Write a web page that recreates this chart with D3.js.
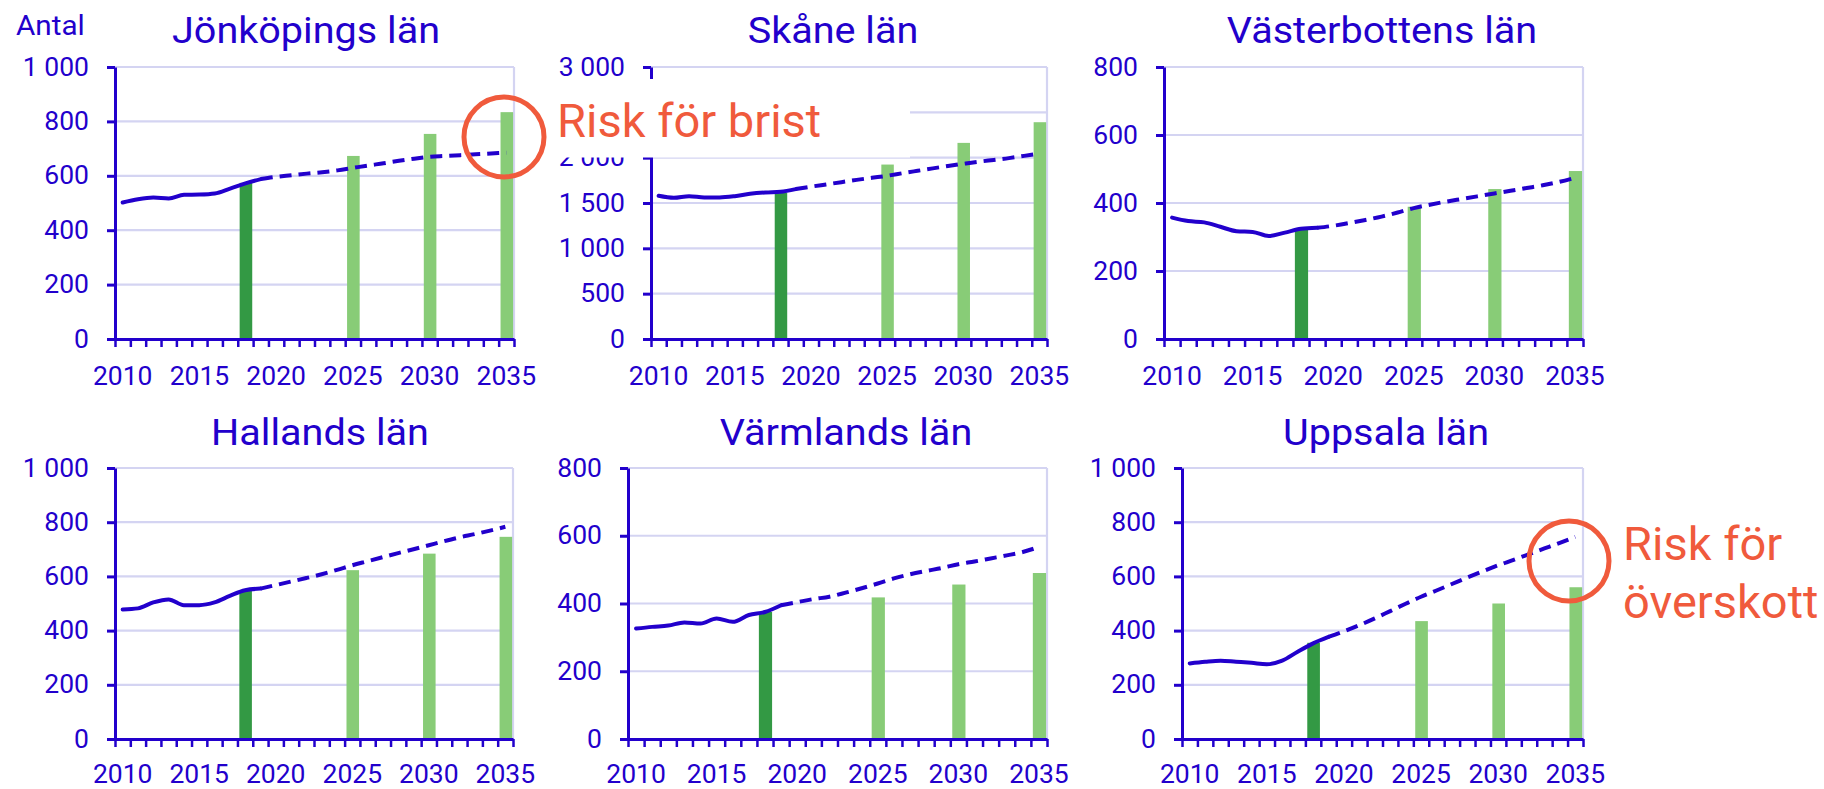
<!DOCTYPE html>
<html>
<head>
<meta charset="utf-8">
<script src="https://cdn.jsdelivr.net/npm/d3@7"></script>
<style>
  html, body { margin: 0; padding: 0; background: #ffffff; }
  svg { display: block; font-family: Roboto, "Noto Sans", sans-serif; }
</style>
</head>
<body>
<svg id="chart" width="1824" height="789"></svg>
<script>
// ---------------- DATA ----------------
const years = [2010,2011,2012,2013,2014,2015,2016,2017,2018,2019,2020,2021,2022,
               2023,2024,2025,2026,2027,2028,2029,2030,2031,2032,2033,2034,2035];
const xLabelYears = [2010, 2015, 2020, 2025, 2030, 2035];
const histYears = [2010,2011,2012,2013,2014,2015,2016,2017,2018,2019];
const forecastYears = [2019,2020,2021,2022,2023,2024,2025,2026,2027,2028,2029,
                       2030,2031,2032,2033,2034,2035];
const barYears = [2018, 2025, 2030, 2035];

const titles = ["Jönköpings län", "Skåne län", "Västerbottens län",
                "Hallands län", "Värmlands län", "Uppsala län"];
const yMax  = [1000, 3000, 800, 1000, 800, 1000];
const yStep = [200, 500, 200, 200, 200, 200];

// Jönköpings län
const jonkopingHist = [502, 514, 520, 517, 530, 531, 535, 553, 572, 588];
const jonkopingForecast = [588, 596, 602, 608, 613, 620, 629, 638, 646, 655, 663,
                           670, 673, 676, 679, 682, 685];
const jonkopingBars = [574, 673, 754, 834];

// Skåne län
const skaneHist = [1579, 1557, 1575, 1561, 1561, 1575, 1601, 1616, 1623, 1653];
const skaneForecast = [1653, 1680, 1705, 1730, 1755, 1778, 1800, 1828, 1855, 1882,
                       1908, 1932, 1955, 1975, 1995, 2020, 2045];
const skaneBars = [1612, 1924, 2163, 2391];

// Västerbottens län
const vasterbottenHist = [357, 347, 343, 330, 317, 315, 303, 313, 324, 327];
const vasterbottenForecast = [327, 333, 341, 350, 360, 372, 385, 395, 404, 412, 420,
                              428, 436, 444, 452, 462, 474];
const vasterbottenBars = [322, 389, 441, 494];

// Hallands län
const hallandHist = [478, 482, 504, 515, 494, 494, 504, 528, 549, 555];
const hallandForecast = [555, 568, 581, 594, 608, 624, 641, 656, 671, 686, 700,
                         715, 730, 744, 756, 769, 783];
const hallandBars = [549, 623, 684, 746];

// Värmlands län
const varmlandHist = [326, 331, 335, 344, 341, 356, 346, 366, 375, 395];
const varmlandForecast = [395, 404, 413, 420, 432, 445, 459, 474, 486, 496, 505,
                          516, 524, 533, 542, 552, 567];
const varmlandBars = [375, 418, 456, 490];

// Uppsala län
const uppsalaHist = [279, 285, 289, 285, 281, 276, 289, 322, 353, 377];
const uppsalaForecast = [377, 397, 420, 445, 472, 499, 525, 548, 572, 596, 619,
                         641, 661, 682, 703, 724, 746];
const uppsalaBars = [355, 435, 500, 560];

const histSeries = [jonkopingHist, skaneHist, vasterbottenHist, hallandHist, varmlandHist, uppsalaHist];
const forecastSeries = [jonkopingForecast, skaneForecast, vasterbottenForecast,
                        hallandForecast, varmlandForecast, uppsalaForecast];
const barSeries = [jonkopingBars, skaneBars, vasterbottenBars, hallandBars, varmlandBars, uppsalaBars];

// ---------------- LAYOUT / STYLE ----------------
const BLUE = "#2200cc";
const GRID = "#d4d4f2";
const DARK_GREEN = "#339944";
const LIGHT_GREEN = "#88cc77";
const RED = "#f05a3c";
const STRETCH = 1.06;

const panels = [
  {x0: 115, x1: 514,  yTop: 67,  yZero: 339, titleX: 306,  titleY: 43, lab: 46},
  {x0: 651, x1: 1047, yTop: 67,  yZero: 339, titleX: 833,  titleY: 43, lab: 46},
  {x0: 1164, x1: 1583, yTop: 67, yZero: 339, titleX: 1382, titleY: 43, lab: 46},
  {x0: 115, x1: 513,  yTop: 468, yZero: 739, titleX: 320,  titleY: 445, lab: 44},
  {x0: 628, x1: 1047, yTop: 468, yZero: 739, titleX: 846,  titleY: 445, lab: 44},
  {x0: 1182, x1: 1583, yTop: 468, yZero: 739, titleX: 1386, titleY: 445, lab: 44}
];

const locale = d3.formatLocale({decimal: ",", thousands: "\u00a0", grouping: [3], currency: ["", " kr"]});
const fmt = locale.format(",d");

const svg = d3.select("#chart");

panels.forEach((p, i) => {
  const g = svg.append("g");
  const x = d3.scaleLinear().domain([years[0] - 0.5, years[years.length - 1] + 0.5]).range([p.x0, p.x1]);
  const y = d3.scaleLinear().domain([0, yMax[i]]).range([p.yZero, p.yTop]);
  const step = x(years[1]) - x(years[0]);
  const yTicks = d3.range(0, yMax[i] + 1, yStep[i]);

  // gridlines
  g.append("g").selectAll("line").data(yTicks.filter(d => d > 0)).join("line")
    .attr("x1", p.x0).attr("x2", p.x1)
    .attr("y1", d => y(d)).attr("y2", d => y(d))
    .attr("stroke", GRID).attr("stroke-width", 2.2);
  g.append("line")
    .attr("x1", p.x1).attr("x2", p.x1)
    .attr("y1", y(yMax[i])).attr("y2", y(0))
    .attr("stroke", GRID).attr("stroke-width", 2.2);

  // bars
  const bw = step * 0.82;
  g.append("g").selectAll("rect").data(barYears.map((yr, k) => ({yr, v: barSeries[i][k], k}))).join("rect")
    .attr("x", d => x(d.yr) - bw / 2 + 0.5)
    .attr("width", bw)
    .attr("y", d => y(d.v))
    .attr("height", d => y(0) - y(d.v))
    .attr("fill", d => d.k === 0 ? DARK_GREEN : LIGHT_GREEN);

  // lines
  const line = d3.line().x(d => x(d[0])).y(d => y(d[1])).curve(d3.curveMonotoneX);
  g.append("path")
    .datum(histYears.map((yr, k) => [yr, histSeries[i][k]]))
    .attr("d", line).attr("fill", "none")
    .attr("stroke", BLUE).attr("stroke-width", 4)
    .attr("stroke-linecap", "round").attr("stroke-linejoin", "round");
  g.append("path")
    .datum(forecastYears.map((yr, k) => [yr, forecastSeries[i][k]]))
    .attr("d", line).attr("fill", "none")
    .attr("stroke", BLUE).attr("stroke-width", 4)
    .attr("stroke-dasharray", "12,7");

  // y axis
  const yAxis = d3.axisLeft(y).tickValues(yTicks).tickSize(8).tickSizeOuter(0)
    .tickPadding(18).tickFormat(fmt);
  const ya = g.append("g").attr("transform", `translate(${p.x0},0)`).call(yAxis);
  ya.select(".domain").attr("stroke", BLUE).attr("stroke-width", 3);
  ya.selectAll(".tick line").attr("stroke", BLUE).attr("stroke-width", 3);
  ya.selectAll(".tick text").attr("fill", BLUE).style("font-size", "25px")
    .style("font-family", "Roboto")
    .attr("x", 0).attr("transform", `translate(-26,0) scale(${STRETCH},1)`);

  // x axis (boundary ticks)
  const boundaries = d3.range(0, years.length + 1).map(k => years[0] - 0.5 + k);
  const xAxis = d3.axisBottom(x).tickValues(boundaries).tickSize(8).tickSizeOuter(0).tickFormat("");
  const xa = g.append("g").attr("transform", `translate(0,${p.yZero})`).call(xAxis);
  xa.select(".domain").attr("stroke", BLUE).attr("stroke-width", 3);
  xa.selectAll(".tick line").attr("stroke", BLUE).attr("stroke-width", 2.5);

  g.append("g").selectAll("text").data(xLabelYears).join("text")
    .attr("transform", d => `translate(${x(d)},${p.yZero + p.lab}) scale(${STRETCH},1)`)
    .attr("text-anchor", "middle")
    .attr("fill", BLUE).style("font-size", "25px")
    .text(d => d);

  // title
  g.append("text")
    .attr("transform", `translate(${p.titleX},${p.titleY}) scale(1.07,1)`)
    .attr("text-anchor", "middle").attr("fill", BLUE)
    .style("font-size", "37px").text(titles[i]);
});

// unit label
svg.append("text").attr("transform", `translate(16,35) scale(${STRETCH},1)`).attr("fill", BLUE)
  .style("font-size", "28px").text("Antal");

// annotations
svg.append("rect").attr("x", 520).attr("y", 79).attr("width", 390).attr("height", 78.5)
  .attr("fill", "#ffffff");
svg.append("text").attr("x", 557).attr("y", 137).attr("fill", RED)
  .style("font-size", "47px").text("Risk för brist");
svg.append("circle").attr("cx", 504).attr("cy", 137).attr("r", 40)
  .attr("fill", "none").attr("stroke", RED).attr("stroke-width", 5);

svg.append("text").attr("x", 1623).attr("y", 560).attr("fill", RED)
  .style("font-size", "47px").text("Risk för");
svg.append("text").attr("x", 1623).attr("y", 618).attr("fill", RED)
  .style("font-size", "47px").text("överskott");
svg.append("circle").attr("cx", 1569).attr("cy", 561).attr("r", 40)
  .attr("fill", "none").attr("stroke", RED).attr("stroke-width", 5);
</script>
</body>
</html>
